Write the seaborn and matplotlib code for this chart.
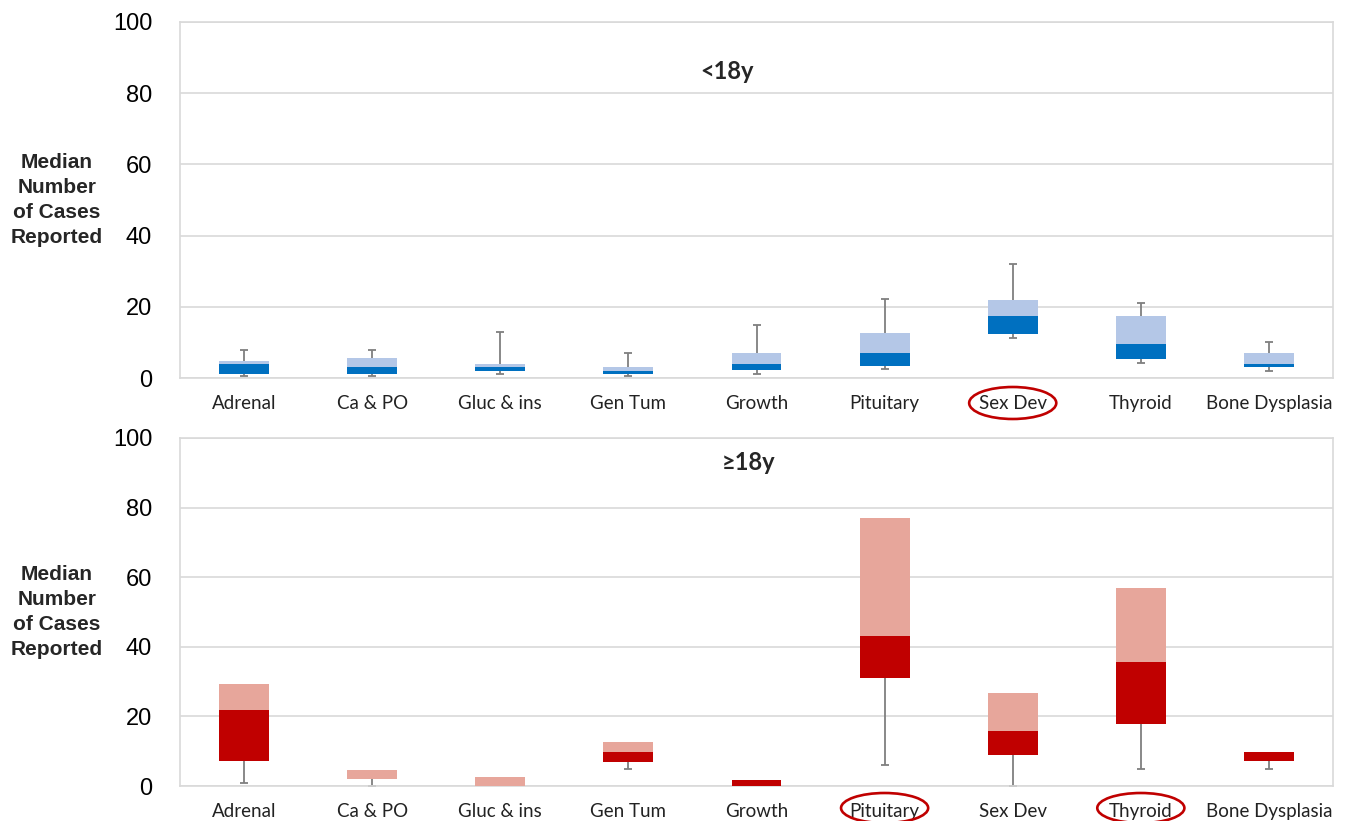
import numpy as np
import matplotlib
matplotlib.use("Agg")
import matplotlib.pyplot as plt
import matplotlib.transforms as mtransforms
from matplotlib.patches import Ellipse
import seaborn as sns

# ---------------- data ----------------
categories = ["Adrenal", "Ca & PO", "Gluc & ins", "Gen Tum", "Growth",
              "Pituitary", "Sex Dev", "Thyroid", "Bone Dysplasia"]

# <18y
young_min = [0.5, 0.5, 1.0, 0.5, 1.2, 2.4, 11.2, 4.2, 2.1]
young_q1 = [1.2, 1.2, 2.1, 1.0, 2.2, 3.3, 12.4, 5.3, 3.1]
young_med = [3.9, 3.0, 3.1, 2.1, 3.9, 7.0, 17.5, 9.6, 3.9]
young_q3 = [4.8, 5.7, 3.9, 3.0, 7.0, 12.5, 22.0, 17.5, 7.0]
young_max = [8.0, 8.0, 13.0, 7.1, 15.0, 22.1, 32.0, 21.2, 10.2]

# >=18y
adult_min = [1.0, 0.0, 0.0, 4.9, 0.0, 5.9, 0.0, 5.0, 5.0]
adult_q1 = [7.3, 1.9, 0.0, 6.9, 0.0, 31.0, 9.0, 17.7, 7.2]
adult_med = [21.9, 1.9, 0.0, 9.8, 1.8, 43.2, 15.8, 35.6, 9.8]
adult_q3 = [29.2, 4.7, 2.6, 12.6, 1.8, 77.1, 26.6, 56.9, 9.8]
adult_max = [29.2, 4.7, 2.6, 12.6, 1.8, 77.1, 26.6, 56.9, 9.8]

y_ticks = [0, 20, 40, 60, 80, 100]
panel_titles = ["<18y", "\u226518y"]
ylabel_text = "Median\nNumber\nof Cases\nReported"
circled = [["Sex Dev"], ["Pituitary", "Thyroid"]]

# ---------------- style ----------------
sns.set_theme(style="white")
plt.rcParams["font.family"] = ["Liberation Sans", "DejaVu Sans"]

W, H = 1348, 821
fig = plt.figure(figsize=(W / 100, H / 100), dpi=100)

def fx(px):
    return px / W

def fy(py):
    return 1 - py / H

ax_top = fig.add_axes([fx(180), fy(378), fx(1333) - fx(180), fy(22) - fy(378)])
ax_bot = fig.add_axes([fx(180), fy(786), fx(1333) - fx(180), fy(438) - fy(786)])

grid_col = "#D9D9D9"
whisk_col = "#7F7F7F"
panels = [
    (ax_top, young_min, young_q1, young_med, young_q3, young_max, "#0070C0", "#B4C7E7"),
    (ax_bot, adult_min, adult_q1, adult_med, adult_q3, adult_max, "#C00000", "#E7A69B"),
]
title_pos = [(0.474, 0.86), (0.493, 0.931)]

for i, (ax, mn, q1, md, q3, mx, dark, light) in enumerate(panels):
    q1a, mda, q3a = np.array(q1), np.array(md), np.array(q3)
    mna, mxa = np.array(mn), np.array(mx)
    pos = np.arange(len(categories))

    # whiskers (only where they have length) with caps at the far end
    lo = (q1a - mna) > 0
    ax.vlines(pos[lo], mna[lo], q1a[lo], color=whisk_col, linewidth=1.3, zorder=2)
    ax.plot(pos[lo], mna[lo], linestyle="none", marker="_", markersize=6,
            markeredgewidth=1.3, color=whisk_col, zorder=2)
    hi = (mxa - q3a) > 0
    if hi.any():
        ax.vlines(pos[hi], q3a[hi], mxa[hi], color=whisk_col, linewidth=1.3, zorder=2)
        ax.plot(pos[hi], mxa[hi], linestyle="none", marker="_", markersize=6,
                markeredgewidth=1.3, color=whisk_col, zorder=2)

    # stacked boxes
    sns.barplot(x=categories, y=mda - q1a, bottom=q1a, color=dark, order=categories,
                errorbar=None, width=0.39, linewidth=0, saturation=1, ax=ax, zorder=3)
    sns.barplot(x=categories, y=q3a - mda, bottom=mda, color=light, order=categories,
                errorbar=None, width=0.39, linewidth=0, saturation=1, ax=ax, zorder=3)

    ax.set_xlim(-0.5, len(categories) - 0.5)
    ax.set_ylim(0, 100)
    ax.set_yticks(y_ticks)
    ax.yaxis.grid(True, color=grid_col, linewidth=1.2, zorder=0)
    ax.xaxis.grid(False)
    ax.set_axisbelow(True)
    for s in ax.spines.values():
        s.set_color(grid_col)
        s.set_linewidth(1.2)
    ax.tick_params(axis="y", length=0, pad=20, labelsize=17, labelcolor="#000000")
    ax.tick_params(axis="x", length=0, pad=12)
    ax.set_xlabel("")
    ax.set_ylabel("")
    ax.set_xticks(pos)
    ax.set_xticklabels(categories, fontsize=13.5, family=["Lato", "DejaVu Sans"],
                       color="#222222")

    ax.text(title_pos[i][0], title_pos[i][1], panel_titles[i], transform=ax.transAxes,
            ha="center", va="center", fontsize=17, fontweight="bold",
            family=["Lato", "DejaVu Sans"])

    # ellipses around highlighted labels
    trans = mtransforms.blended_transform_factory(ax.transData, ax.transAxes)
    axh = ax.get_position().height * H
    for name in circled[i]:
        k = categories.index(name)
        hpx = 32 if i == 0 else 30
        cy = -25 if i == 0 else -22
        e = Ellipse((k, cy / axh), width=0.68, height=hpx / axh, transform=trans,
                    fill=False, edgecolor="#C00000", linewidth=1.9, clip_on=False)
        ax.add_patch(e)

    # y label
    cyf = (ax.get_position().y0 + ax.get_position().y1) / 2
    fig.text(fx(57), cyf, ylabel_text, ha="center", va="center", fontsize=15,
             fontweight="bold", linespacing=1.38, multialignment="center")

fig.savefig("out.png", dpi=100)
